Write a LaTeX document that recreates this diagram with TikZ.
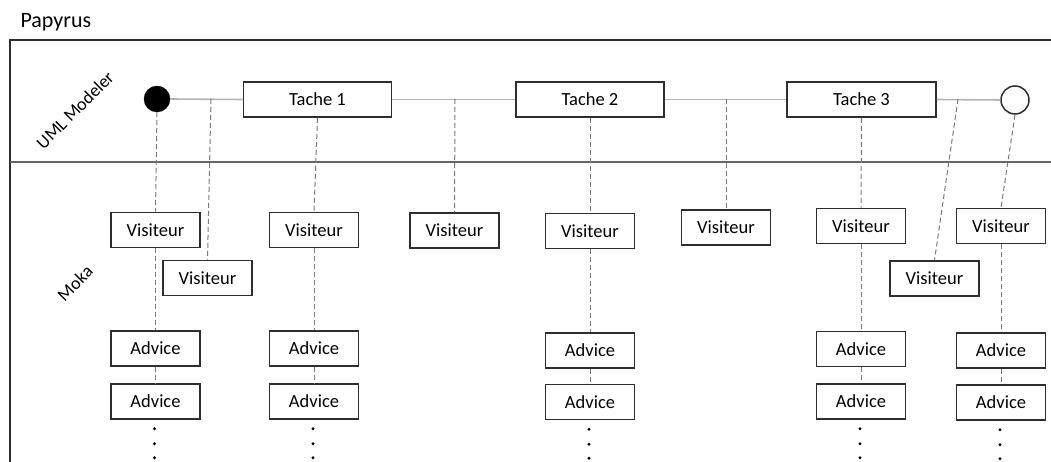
\documentclass[tikz,border=0pt]{standalone}
\usepackage{fontspec}
\setmainfont{Carlito}
\usetikzlibrary{calc}
\definecolor{boxline}{HTML}{2E2E2E}
\definecolor{flowline}{HTML}{B4B4B4}
\definecolor{dashline}{HTML}{7A7A7A}
\tikzset{
  box/.style={draw=boxline, line width=1.6pt, fill=white, minimum width=89pt, minimum height=35pt, inner sep=0pt, font=\fontsize{18.5}{20}\selectfont},
  tache/.style={box, minimum width=148pt},
  flow/.style={draw=flowline, line width=1.6pt},
  link/.style={draw=dashline, line width=1pt, dash pattern=on 5pt off 3pt},
  lane/.style={font=\fontsize{18}{20}\selectfont, rotate=45},
  dot/.style={fill=black}
}
\begin{document}
\begin{tikzpicture}[x=1pt,y=-1pt]
\useasboundingbox (0,0) rectangle (1051,462);
% frame
\draw[boxline, line width=2pt] (10,463) -- (10,40) -- (1052,40);
\draw[gray!80!black, line width=1.5pt] (10,162) -- (1052,162);
\node[anchor=west, font=\fontsize{22}{24}\selectfont] (papyrus) at (17,22) {Papyrus};
\node[lane] (uml) at (75,110) {UML Modeler};
\node[lane] (moka) at (75,283) {Moka};

% top lane
\node[circle, fill=black, draw=black, minimum size=26pt, inner sep=0pt] (start) at (157,99) {};
\node[tache] (T1) at (317.5,99.5) {Tache 1};
\node[tache] (T2) at (590,99.5) {Tache 2};
\node[tache, minimum width=149pt] (T3) at (861.5,99.5) {Tache 3};
\node[circle, fill=white, draw=boxline, line width=1.5pt, minimum size=28pt, inner sep=0pt] (end) at (1015,100) {};

\coordinate (j1) at (211,99);
\coordinate (j2) at (455,99);
\coordinate (j3) at (726,99);
\coordinate (j4) at (958,99);

% bottom lane
\node[box] (V1) at (155.5,230) {Visiteur};
\node[box] (V2) at (207.5,278) {Visiteur};
\node[box] (A1) at (155.5,348.5) {Advice};
\node[box] (A2) at (155.5,401.5) {Advice};
\node[box] (V3) at (314,230) {Visiteur};
\node[box] (A3) at (314,348.5) {Advice};
\node[box] (A4) at (314,401.5) {Advice};
\node[box] (V4) at (454.5,230.5) {Visiteur};
\node[box] (V5) at (590,231) {Visiteur};
\node[box] (A5) at (590,350.5) {Advice};
\node[box] (A6) at (590,402) {Advice};
\node[box] (V6) at (726,227.5) {Visiteur};
\node[box] (V7) at (861,226) {Visiteur};
\node[box] (A7) at (861,349) {Advice};
\node[box] (A8) at (861,401.5) {Advice};
\node[box] (V8) at (934.5,278.5) {Visiteur};
\node[box] (V9) at (1001,226) {Visiteur};
\node[box] (A9) at (1001,350.5) {Advice};
\node[box] (A10) at (1001,402.5) {Advice};

% flow line
\draw[flow] (start.east) -- (T1.west);
\draw[flow] (T1.east) -- (T2.west);
\draw[flow] (T2.east) -- (T3.west);
\draw[flow] (T3.east) -- (end.west);

% dashed links
\draw[link] (start.south) -- (V1.north);
\draw[link] (j1) -- (V2.north);
\draw[link] (T1.south) -- (V3.north);
\draw[link] (j2) -- (V4.north);
\draw[link] (T2.south) -- (V5.north);
\draw[link] (j3) -- (V6.north);
\draw[link] (T3.south) -- (V7.north);
\draw[link] (j4) -- (V8.north);
\draw[link] (end.south) -- (V9.north);
\foreach \a/\b in {V1/A1,A1/A2,V3/A3,A3/A4,V5/A5,A5/A6,V7/A7,A7/A8,V9/A9,A9/A10}
  \draw[link] (\a.south) -- (\b.north);

% continuation dots
\foreach \n in {A2,A4,A6,A8,A10}{
  \foreach \d in {9,24,38}
    \fill[dot] ($(\n.south)+(-1,\d)$) circle (1.6pt);
}
\end{tikzpicture}
\end{document}
